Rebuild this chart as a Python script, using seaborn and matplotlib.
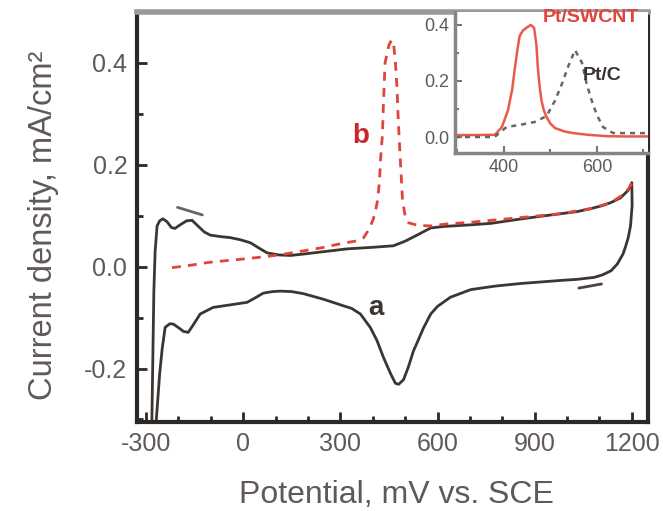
import matplotlib
matplotlib.use("Agg")
import matplotlib.pyplot as plt
from matplotlib.ticker import MultipleLocator
import seaborn as sns
import pandas as pd

# Cyclic voltammogram of Pt/C (curve a): anodic sweep then cathodic sweep
cv_a_potential = [-282, -276, -272, -266, -258, -248, -235, -222, -211, -195, -175, -158,
                  -140, -120, -102, -70, -40, -10, 22, 50, 74, 110, 146, 190, 229, 269,
                  322, 400, 464, 500, 540, 579, 620, 700, 765, 850, 920, 981, 1030, 1074,
                  1110, 1136, 1165, 1189, 1200,
                  1201, 1196, 1189, 1180, 1173, 1155, 1136, 1110, 1084, 1030, 981, 920,
                  858, 780, 703, 640, 600, 579, 557, 540, 526, 510, 495, 480, 470, 455,
                  433, 413, 393, 362, 335, 310, 248, 186, 150, 115, 90, 62, 35, 12, -40,
                  -93, -133, -155, -170, -185, -195, -215, -226, -241, -250, -258, -266,
                  -269]
cv_a_current = [-0.30, -0.05, 0.03, 0.08, 0.090, 0.094, 0.088, 0.077, 0.075, 0.082, 0.090,
                0.091, 0.080, 0.068, 0.062, 0.059, 0.057, 0.053, 0.047, 0.036, 0.027, 0.023,
                0.022, 0.025, 0.028, 0.031, 0.035, 0.038, 0.041, 0.050, 0.063, 0.076, 0.079,
                0.082, 0.085, 0.093, 0.099, 0.104, 0.108, 0.114, 0.120, 0.126, 0.135, 0.150,
                0.165,
                0.120, 0.080, 0.057, 0.038, 0.025, 0.005, -0.008, -0.016, -0.021, -0.025,
                -0.027, -0.030, -0.033, -0.038, -0.045, -0.060, -0.078, -0.093, -0.120,
                -0.145, -0.165, -0.197, -0.222, -0.231, -0.229, -0.210, -0.178, -0.145,
                -0.120, -0.093, -0.082, -0.077, -0.064, -0.053, -0.049, -0.048, -0.049,
                -0.052, -0.062, -0.070, -0.075, -0.080, -0.093, -0.115, -0.129, -0.127,
                -0.122, -0.113, -0.112, -0.119, -0.160, -0.210, -0.280, -0.305]

# Anodic sweep of Pt/SWCNT (curve b)
cv_b_potential = [-220, -160, -111, -50, 0, 74, 130, 186, 250, 300, 345, 372, 390, 402, 410,
                  415, 421, 424, 430, 433, 438, 450, 458, 464, 470, 475, 478, 481, 486, 492,
                  500, 511, 540, 579, 630, 700, 800, 900, 981, 1074, 1136, 1170, 1189, 1204]
cv_b_current = [-0.002, 0.003, 0.008, 0.012, 0.015, 0.020, 0.025, 0.031, 0.038, 0.045, 0.050,
                0.057, 0.075, 0.094, 0.115, 0.130, 0.170, 0.210, 0.260, 0.320, 0.400, 0.435,
                0.445, 0.440, 0.400, 0.350, 0.300, 0.260, 0.200, 0.130, 0.100, 0.086, 0.081,
                0.080, 0.084, 0.087, 0.093, 0.099, 0.104, 0.114, 0.126, 0.140, 0.152, 0.168]

# Inset: background-corrected oxidation peaks
inset_swcnt_potential = [295, 340, 381, 396, 409, 418, 424, 430, 434, 441, 449, 458, 465, 470,
                         473, 477, 481, 486, 492, 500, 510, 530, 549, 580, 622, 660, 710]
inset_swcnt_current = [0.007, 0.007, 0.008, 0.036, 0.096, 0.170, 0.250, 0.320, 0.360, 0.380,
                       0.390, 0.400, 0.390, 0.330, 0.250, 0.180, 0.130, 0.095, 0.071, 0.048,
                       0.032, 0.020, 0.014, 0.008, 0.003, 0.002, 0.002]
inset_ptc_potential = [295, 340, 380, 406, 434, 467, 492, 510, 525, 538, 553, 568, 578, 589,
                       600, 613, 635, 660, 710]
inset_ptc_current = [0.000, 0.000, 0.000, 0.036, 0.043, 0.054, 0.075, 0.130, 0.190, 0.250,
                     0.310, 0.265, 0.190, 0.130, 0.079, 0.036, 0.014, 0.014, 0.014]

x_ticks = [-300, 0, 300, 600, 900, 1200]
y_ticks = [-0.2, 0.0, 0.2, 0.4]
inset_x_ticks = [400, 600]
inset_y_ticks = [0.0, 0.2, 0.4]

sns.set_style("ticks")
plt.rcParams["font.family"] = ["Liberation Sans", "DejaVu Sans"]
plt.rcParams["axes.unicode_minus"] = False

text_grey = "#5f5a58"
dark = "#2e2824"
red = "#e0443c"

fig = plt.figure(figsize=(6.63, 5.11), dpi=100)
ax = fig.add_axes([137 / 663, 1 - 422 / 511, (648 - 137) / 663, (422 - 12) / 511])

df_a = pd.DataFrame({"E": cv_a_potential, "j": cv_a_current})
df_b = pd.DataFrame({"E": cv_b_potential, "j": cv_b_current})
sns.lineplot(data=df_a, x="E", y="j", sort=False, estimator=None, ax=ax,
             color="#3d3532", linewidth=2.0)
sns.lineplot(data=df_b, x="E", y="j", sort=False, estimator=None, ax=ax,
             color=red, linewidth=2.0, linestyle=(0, (3.2, 2.6)))

ax.set_xlim(-328, 1250)
ax.set_ylim(-0.305, 0.5)
ax.set_xticks(x_ticks)
ax.set_yticks(y_ticks)
ax.set_yticklabels([f"{v:.1f}" for v in y_ticks])
ax.xaxis.set_minor_locator(MultipleLocator(100))
ax.yaxis.set_minor_locator(MultipleLocator(0.1))
ax.tick_params(which="both", direction="in", colors=dark, labelcolor=text_grey,
               labelsize=18, width=2.0)
ax.tick_params(which="major", length=7, pad=7)
ax.tick_params(which="minor", length=4)
for side in ["left", "bottom", "right"]:
    ax.spines[side].set_color(dark)
    ax.spines[side].set_linewidth(3.0)
ax.spines["top"].set_color("#9a9a9a")
ax.spines["top"].set_linewidth(4.0)

ax.set_xlabel("Potential, mV vs. SCE", fontsize=23, color=text_grey)
ax.set_ylabel("Current density, mA/cm²", fontsize=23.5, color=text_grey)
ax.xaxis.set_label_coords(0.507, -0.142)
ax.yaxis.set_label_coords(-0.152, 0.48)

# Sweep-direction markers and curve labels
ax.annotate("", xy=(-118, 0.100), xytext=(-211, 0.118),
            arrowprops=dict(arrowstyle="-", color="#6a6462", lw=2.0))
ax.annotate("", xy=(1028, -0.043), xytext=(1115, -0.033),
            arrowprops=dict(arrowstyle="-", color="#4a4340", lw=2.0))
ax.text(409, -0.082, "a", fontsize=20, fontweight="bold", color="#3d3532",
        ha="center", va="center")
ax.text(362, 0.257, "b", fontsize=20, fontweight="bold", color="#c8262a",
        ha="center", va="center")

# Inset
ins = fig.add_axes([455 / 663, 1 - 153 / 511, (648 - 455) / 663, (153 - 12) / 511])
df_s = pd.DataFrame({"E": inset_swcnt_potential, "j": inset_swcnt_current})
df_p = pd.DataFrame({"E": inset_ptc_potential, "j": inset_ptc_current})
sns.lineplot(data=df_s, x="E", y="j", sort=False, estimator=None, ax=ins,
             color="#ea5a48", linewidth=1.8)
sns.lineplot(data=df_p, x="E", y="j", sort=False, estimator=None, ax=ins,
             color="#6a6462", linewidth=1.8, linestyle=(0, (2.0, 2.0)))
ins.set_xlim(295, 710)
ins.set_ylim(-0.057, 0.446)
ins.set_xticks(inset_x_ticks)
ins.set_yticks(inset_y_ticks)
ins.set_yticklabels([f"{v:.1f}" for v in inset_y_ticks])
ins.xaxis.set_minor_locator(MultipleLocator(100))
ins.yaxis.set_minor_locator(MultipleLocator(0.1))
ins.tick_params(which="both", direction="in", colors="#7a7471", labelcolor=text_grey,
                labelsize=13, width=1.5)
ins.tick_params(which="major", length=5, pad=4)
ins.tick_params(which="minor", length=3)
ins.set_xlabel("")
ins.set_ylabel("")
for side in ["left", "bottom"]:
    ins.spines[side].set_color("#8a8481")
    ins.spines[side].set_linewidth(2.5)
ins.spines["top"].set_visible(False)
ins.spines["right"].set_visible(False)
ins.text(588, 0.425, "Pt/SWCNT", fontsize=14, fontweight="bold", color="#e0443c",
         ha="center", va="center")
ins.text(612, 0.22, "Pt/C", fontsize=14, fontweight="bold", color="#3a3432",
         ha="center", va="center")

fig.savefig("out.png", dpi=100)
